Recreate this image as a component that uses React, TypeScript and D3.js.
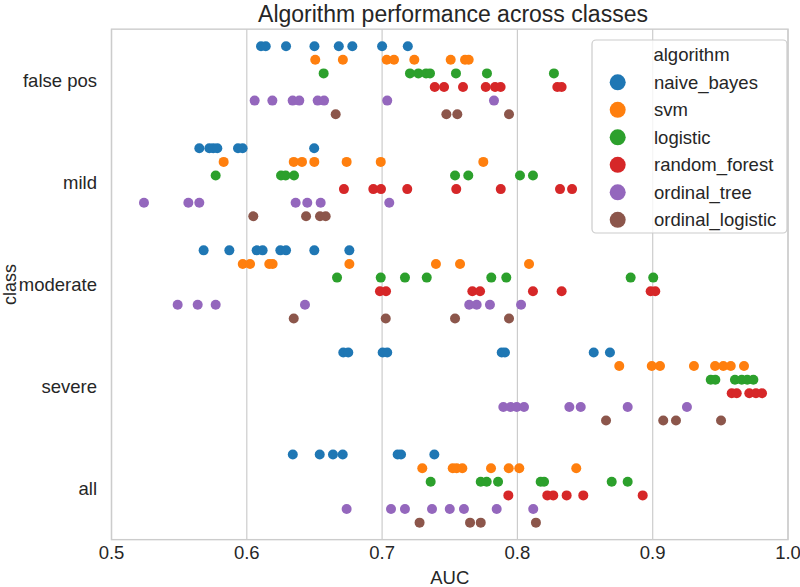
import React from "react";
import * as d3 from "d3";

const classes = ["false pos", "mild", "moderate", "severe", "all"];
const algorithms = ["naive_bayes", "svm", "logistic", "random_forest", "ordinal_tree", "ordinal_logistic"];
const colors = ["#1f77b4", "#ff7f0e", "#2ca02c", "#d62728", "#9467bd", "#8c564b"];
const xTicks = [0.5, 0.6, 0.7, 0.8, 0.9, 1.0];

// AUC values per class (false pos, mild, moderate, severe, all)
const naiveBayes = [
  [0.6105, 0.614, 0.629, 0.65, 0.668, 0.678, 0.7, 0.719],
  [0.5649, 0.5723, 0.5752, 0.5782, 0.5935, 0.5969, 0.6498],
  [0.5681, 0.5871, 0.6073, 0.6117, 0.6248, 0.629, 0.6499, 0.6758],
  [0.6713, 0.675, 0.7004, 0.7038, 0.7884, 0.7908, 0.8564, 0.8684],
  [0.634, 0.6539, 0.6637, 0.6709, 0.7115, 0.714, 0.7386],
];
const svm = [
  [0.6506, 0.671, 0.7034, 0.7088, 0.7238, 0.7507, 0.7613, 0.764],
  [0.5829, 0.6347, 0.6408, 0.6499, 0.6738, 0.699, 0.7748],
  [0.597, 0.6024, 0.6166, 0.6191, 0.6758, 0.7398, 0.7576, 0.8086],
  [0.8753, 0.8993, 0.9054, 0.9305, 0.9461, 0.9522, 0.9577, 0.9675],
  [0.7297, 0.7522, 0.7551, 0.7593, 0.7805, 0.7936, 0.8014, 0.8435],
];
const logistic = [
  [0.6568, 0.7206, 0.7268, 0.7325, 0.7354, 0.7546, 0.7775, 0.827],
  [0.577, 0.6253, 0.6287, 0.6349, 0.7539, 0.7637, 0.8019, 0.8115],
  [0.6667, 0.699, 0.7169, 0.733, 0.7807, 0.7918, 0.8837, 0.9004],
  [0.9429, 0.9463, 0.9608, 0.9658, 0.9699, 0.9744],
  [0.7359, 0.7729, 0.7773, 0.7857, 0.8172, 0.8197, 0.8697, 0.8815],
];
const randomForest = [
  [0.7389, 0.7458, 0.7598, 0.7766, 0.7835, 0.7876, 0.8295, 0.8327],
  [0.6718, 0.6935, 0.6992, 0.7186, 0.7548, 0.7877, 0.8315, 0.8404],
  [0.6984, 0.7029, 0.7667, 0.7724, 0.8115, 0.8327, 0.8985, 0.9019],
  [0.9584, 0.9621, 0.9714, 0.9763, 0.9808],
  [0.7933, 0.8221, 0.8265, 0.8364, 0.8487, 0.8926],
];
const ordinalTree = [
  [0.6058, 0.6189, 0.6339, 0.6388, 0.6524, 0.6571, 0.7038, 0.7827],
  [0.524, 0.5568, 0.5649, 0.6361, 0.6447, 0.6546, 0.7053],
  [0.5489, 0.5637, 0.577, 0.643, 0.7644, 0.7699, 0.7797, 0.8027],
  [0.7896, 0.795, 0.7995, 0.8049, 0.8384, 0.8468, 0.8815, 0.9253],
  [0.6738, 0.7066, 0.7169, 0.7369, 0.75, 0.7605, 0.7847, 0.8117],
];
const ordinalLogistic = [
  [0.6657, 0.7475, 0.7556, 0.7938],
  [0.6048, 0.6438, 0.6541, 0.6583],
  [0.6347, 0.7027, 0.7539, 0.7938],
  [0.8655, 0.9078, 0.9172, 0.9505],
  [0.7277, 0.765, 0.7729, 0.8137],
];
const seriesValues = [naiveBayes, svm, logistic, randomForest, ordinalTree, ordinalLogistic];

const W = 800;
const H = 587;
const left = 111.5;
const right = 788;
const top = 29.15;
const bottom = 539.65;
const font = "'Liberation Sans', Arial, sans-serif";
const textColor = "#262626";
const gridColor = "#cccccc";

export default function App() {
  const x = d3.scaleLinear().domain([0.5, 1.0]).range([left, right]);
  const y = d3.scaleBand<string>().domain(classes).range([top, bottom]).paddingInner(0).paddingOuter(0);
  const bw = y.bandwidth();
  const dodgeStep = (bw * 0.8) / algorithms.length;
  const offset = (j: number) => (j - (algorithms.length - 1) / 2) * dodgeStep;

  const points: { cx: number; cy: number; color: string; key: string }[] = [];
  seriesValues.forEach((series, j) => {
    series.forEach((vals, i) => {
      vals.forEach((v, k) => {
        points.push({
          cx: x(v),
          cy: (y(classes[i]) as number) + bw / 2 + offset(j),
          color: colors[j],
          key: `${j}-${i}-${k}`,
        });
      });
    });
  });

  const legendX = 592;
  const legendY = 40;
  const legendW = 195;
  const legendH = 193;
  const legendRow0 = 82.3;
  const legendStep = 27.5;

  return (
    <svg width={W} height={H} style={{ position: "absolute", left: 0, top: 0, background: "#fff" }} fontFamily={font}>
      <rect x={0} y={0} width={W} height={H} fill="#ffffff" />
      {xTicks.map((t) => (
        <line key={"g" + t} x1={x(t)} x2={x(t)} y1={top} y2={bottom} stroke={gridColor} strokeWidth={1.2} />
      ))}
      <rect x={left} y={top} width={right - left} height={bottom - top} fill="none" stroke={gridColor} strokeWidth={1.4} />
      {points.map((p) => (
        <circle key={p.key} cx={p.cx} cy={p.cy} r={5} fill={p.color} />
      ))}
      {xTicks.map((t) => (
        <text key={"t" + t} x={x(t)} y={559} textAnchor="middle" fontSize={18.5} fill={textColor}>
          {d3.format(".1f")(t)}
        </text>
      ))}
      {classes.map((c) => (
        <text key={"c" + c} x={97} y={(y(c) as number) + bw / 2} dy="0.35em" textAnchor="end" fontSize={18.5} fill={textColor}>
          {c}
        </text>
      ))}
      <text x={(left + right) / 2} y={584} textAnchor="middle" fontSize={18.5} fill={textColor}>AUC</text>
      <text transform={`translate(15.5,${(top + bottom) / 2}) rotate(-90)`} textAnchor="middle" fontSize={18} fill={textColor}>class</text>
      <text x={453} y={22} textAnchor="middle" fontSize={23} fill={textColor}>Algorithm performance across classes</text>
      <g>
        <rect x={legendX} y={legendY} width={legendW} height={legendH} rx={4} fill="#ffffff" fillOpacity={0.8} stroke={gridColor} strokeWidth={1.2} />
        <text x={legendX + legendW / 2 + 2} y={61} textAnchor="middle" fontSize={18.5} fill={textColor}>algorithm</text>
        {algorithms.map((a, j) => (
          <g key={a}>
            <circle cx={617.7} cy={legendRow0 + j * legendStep} r={8} fill={colors[j]} />
            <text x={654} y={legendRow0 + j * legendStep} dy="0.35em" fontSize={18.5} fill={textColor}>{a}</text>
          </g>
        ))}
      </g>
    </svg>
  );
}
